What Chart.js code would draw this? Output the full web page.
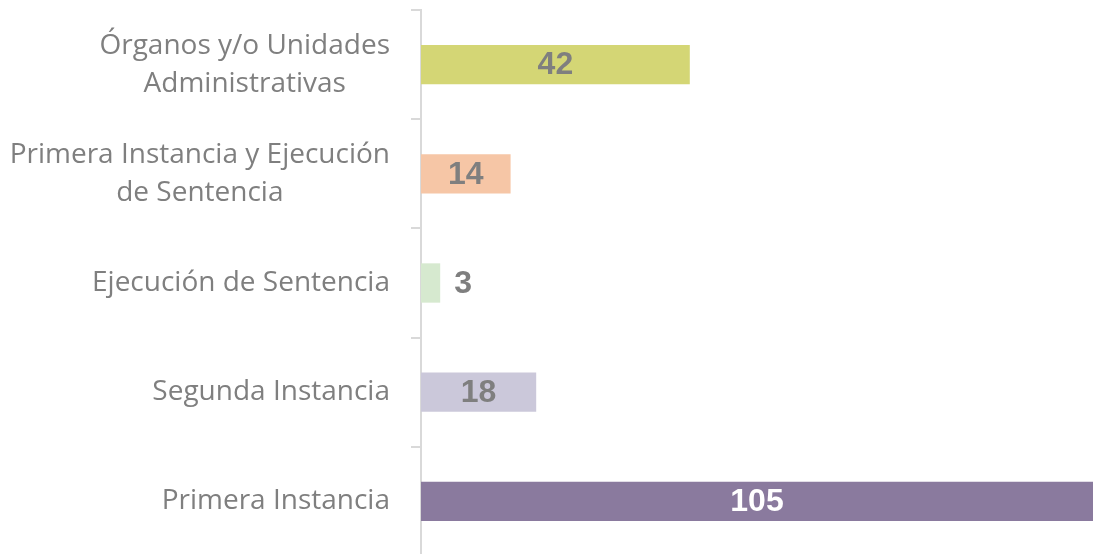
<!DOCTYPE html>
<html>
<head>
<meta charset="utf-8">
<script src="https://cdn.jsdelivr.net/npm/chart.js@4.4.1/dist/chart.umd.min.js"></script>
<style>
  html, body { margin: 0; padding: 0; background: #fff; overflow: hidden; }
</style>
</head>
<body>
<canvas id="bar" width="1093" height="556"></canvas>
<script>
const categories = [
  ['Órganos y/o Unidades', 'Administrativas'],
  ['Primera Instancia y Ejecución', 'de Sentencia'],
  'Ejecución de Sentencia',
  'Segunda Instancia',
  'Primera Instancia',
]
const values = [42, 14, 3, 18, 105]
const barColors = ['#d4d675', '#f6c6a6', '#d6e9cf', '#cbc8da', '#8a7a9e']
const valueColors = ['#7f7f7f', '#7f7f7f', '#7f7f7f', '#7f7f7f', '#ffffff']

// category names: block right-aligned next to the axis, lines centered
const categoryLabels = {
  id: 'categoryLabels',
  afterDraw(chart) {
    const ctx = chart.ctx
    const y = chart.scales.y
    const right = y.right - 31
    ctx.save()
    ctx.font = '28px "Open Sans"'
    ctx.fillStyle = '#7f7f7f'
    ctx.textAlign = 'center'
    ctx.textBaseline = 'middle'
    categories.forEach((c, i) => {
      const lines = Array.isArray(c) ? c : [c]
      const w = Math.max(...lines.map((l) => ctx.measureText(l).width))
      const cy = y.getPixelForTick(i)
      lines.forEach((l, j) => {
        ctx.fillText(l, right - w / 2, cy + (j - (lines.length - 1) / 2) * 38)
      })
    })
    ctx.restore()
  },
}

// value labels inside the bar, or just after it when the bar is too short
const valueLabels = {
  id: 'valueLabels',
  afterDatasetsDraw(chart) {
    const ctx = chart.ctx
    const meta = chart.getDatasetMeta(0)
    ctx.save()
    ctx.font = 'bold 32px "Liberation Sans"'
    ctx.textBaseline = 'middle'
    meta.data.forEach((bar, i) => {
      const txt = String(values[i])
      const w = ctx.measureText(txt).width
      ctx.fillStyle = valueColors[i]
      if (bar.x - bar.base > w + 10) {
        ctx.textAlign = 'center'
        ctx.fillText(txt, (bar.x + bar.base) / 2, bar.y + 1)
      } else {
        ctx.textAlign = 'left'
        ctx.fillText(txt, bar.x + 14, bar.y + 1)
      }
    })
    ctx.restore()
  },
}

const barCtx = document.getElementById('bar')
const bar = new Chart(barCtx, {
  type: 'bar',
  data: {
    labels: categories,
    datasets: [
      {
        data: values,
        backgroundColor: barColors,
        borderWidth: 0,
        barPercentage: 0.36,
        categoryPercentage: 1,
      },
    ],
  },
  options: {
    indexAxis: 'y',
    responsive: false,
    animation: false,
    layout: { padding: { top: 10, right: 0, bottom: 0, left: 0 } },
    plugins: {
      legend: { display: false },
      tooltip: { enabled: false },
    },
    scales: {
      x: { display: false, min: 0, max: 105 },
      y: {
        type: 'category',
        offset: true,
        grid: {
          offset: true,
          drawOnChartArea: false,
          drawTicks: true,
          tickLength: 10,
          color: '#d9d9d9',
          lineWidth: 2,
        },
        border: { display: true, color: '#d9d9d9', width: 2 },
        ticks: { display: false },
        afterFit: (s) => { s.width = 421 },
      },
    },
  },
  plugins: [categoryLabels, valueLabels],
})
</script>
</body>
</html>
